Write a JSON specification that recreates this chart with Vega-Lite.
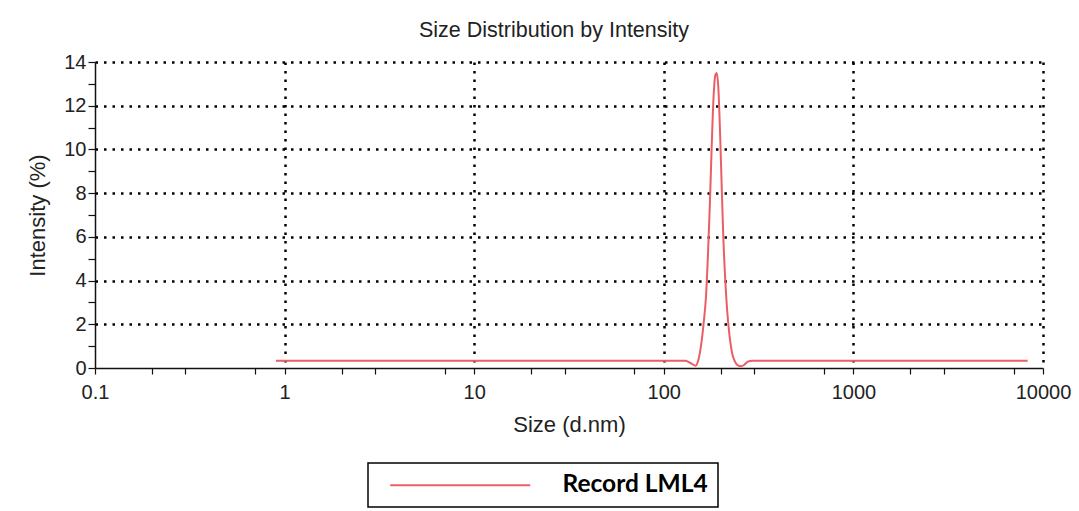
{
  "$schema": "https://vega.github.io/schema/vega-lite/v6.json",
  "width": 948,
  "height": 306,
  "padding": {"left": 26, "top": 19, "right": 36, "bottom": 0},
  "background": "white",
  "title": {"text": "Size Distribution by Intensity", "font": "Liberation Sans", "fontSize": 21.5, "fontWeight": "normal", "color": "#222", "offset": 11, "dx": -15},
  "config": {
    "view": {"stroke": null},
    "font": "Liberation Sans",
    "legend": {"strokeWidth": 1.5}
  },
  "data": {
    "values": [
      {"size": 0.9, "intensity": 0.33, "series": "Record LML4"},
      {"size": 2, "intensity": 0.33, "series": "Record LML4"},
      {"size": 10, "intensity": 0.33, "series": "Record LML4"},
      {"size": 50, "intensity": 0.33, "series": "Record LML4"},
      {"size": 100, "intensity": 0.33, "series": "Record LML4"},
      {"size": 130, "intensity": 0.33, "series": "Record LML4"},
      {"size": 140, "intensity": 0.2, "series": "Record LML4"},
      {"size": 147, "intensity": 0.1, "series": "Record LML4"},
      {"size": 152, "intensity": 0.35, "series": "Record LML4"},
      {"size": 157, "intensity": 1.0, "series": "Record LML4"},
      {"size": 162, "intensity": 2.0, "series": "Record LML4"},
      {"size": 167, "intensity": 3.3, "series": "Record LML4"},
      {"size": 171, "intensity": 5.2, "series": "Record LML4"},
      {"size": 175, "intensity": 7.5, "series": "Record LML4"},
      {"size": 179, "intensity": 10.2, "series": "Record LML4"},
      {"size": 183, "intensity": 12.4, "series": "Record LML4"},
      {"size": 187, "intensity": 13.4, "series": "Record LML4"},
      {"size": 190, "intensity": 13.5, "series": "Record LML4"},
      {"size": 194, "intensity": 12.8, "series": "Record LML4"},
      {"size": 198, "intensity": 10.8, "series": "Record LML4"},
      {"size": 202, "intensity": 8.3, "series": "Record LML4"},
      {"size": 206, "intensity": 6.0, "series": "Record LML4"},
      {"size": 211, "intensity": 4.0, "series": "Record LML4"},
      {"size": 216, "intensity": 2.6, "series": "Record LML4"},
      {"size": 222, "intensity": 1.5, "series": "Record LML4"},
      {"size": 229, "intensity": 0.7, "series": "Record LML4"},
      {"size": 237, "intensity": 0.3, "series": "Record LML4"},
      {"size": 246, "intensity": 0.12, "series": "Record LML4"},
      {"size": 256, "intensity": 0.08, "series": "Record LML4"},
      {"size": 266, "intensity": 0.15, "series": "Record LML4"},
      {"size": 278, "intensity": 0.3, "series": "Record LML4"},
      {"size": 295, "intensity": 0.33, "series": "Record LML4"},
      {"size": 1000, "intensity": 0.33, "series": "Record LML4"},
      {"size": 8300, "intensity": 0.33, "series": "Record LML4"}
    ]
  },
  "mark": {"type": "line", "strokeWidth": 2, "interpolate": "monotone"},
  "encoding": {
    "x": {
      "field": "size",
      "type": "quantitative",
      "scale": {"type": "log", "domain": [0.1, 10000], "nice": false},
      "axis": {
        "title": "Size (d.nm)",
        "values": [0.1, 0.2, 0.3, 0.7, 1, 2, 3, 7, 10, 20, 30, 70, 100, 200, 300, 700, 1000, 2000, 3000, 7000, 10000],
        "labelExpr": "indexof([0.1,1,10,100,1000,10000], datum.value) >= 0 ? '' + datum.value : ''",
        "grid": true,
        "gridColor": "black",
        "gridDash": [2.5, 6],
        "gridWidth": 2.5,
        "gridOpacity": {"condition": {"test": "indexof([1,10,100,1000,10000], datum.value) >= 0", "value": 1}, "value": 0},
        "domainColor": "#111",
        "domainWidth": 1.5,
        "tickColor": "#111",
        "tickSize": 6,
        "tickWidth": 1.2,
        "labelFontSize": 20,
        "labelColor": "#222",
        "labelPadding": 8,
        "labelFlush": false,
        "labelOverlap": false,
        "titleFontSize": 22,
        "titleFontWeight": "normal",
        "titleColor": "#222",
        "titlePadding": 12
      }
    },
    "y": {
      "field": "intensity",
      "type": "quantitative",
      "scale": {"domain": [0, 14], "nice": false},
      "axis": {
        "title": "Intensity (%)",
        "values": [0, 1, 2, 3, 4, 5, 6, 7, 8, 9, 10, 11, 12, 13, 14],
        "labelExpr": "datum.value % 2 == 0 ? '' + datum.value : ''",
        "grid": true,
        "gridColor": "black",
        "gridDash": [2.5, 6],
        "gridWidth": 2.5,
        "gridOpacity": {"condition": {"test": "datum.value % 2 == 0 && datum.value > 0", "value": 1}, "value": 0},
        "domainColor": "#111",
        "domainWidth": 1.5,
        "tickColor": "#111",
        "tickSize": 7,
        "tickWidth": 1.2,
        "labelFontSize": 20,
        "labelColor": "#222",
        "labelPadding": 2,
        "labelOverlap": false,
        "titleFontSize": 22,
        "titleFontWeight": "normal",
        "titleColor": "#222",
        "titlePadding": 14
      }
    },
    "color": {
      "field": "series",
      "type": "nominal",
      "scale": {"range": ["#ea5f66"]},
      "legend": {
        "title": null,
        "orient": "none",
        "legendX": 273,
        "legendY": 401,
        "strokeColor": "black",
        "padding": 10,
        "symbolType": "M-7,0H7",
        "symbolSize": 400,
        "symbolStrokeWidth": 2,
        "symbolOffset": 70,
        "labelOffset": 90,
        "labelFont": "Lato",
        "labelFontWeight": "bold",
        "labelFontSize": 24.5,
        "labelColor": "black",
        "labelLimit": 400
      }
    }
  }
}
